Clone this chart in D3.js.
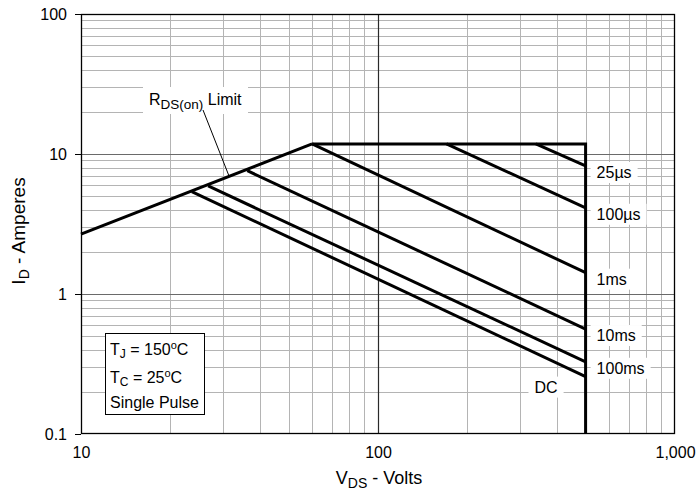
<!DOCTYPE html>
<html>
<head>
<meta charset="utf-8">
<script src="https://cdn.jsdelivr.net/npm/d3@7"></script>
<style>
  html, body { margin: 0; padding: 0; background: #fff; }
  svg { display: block; font-family: "Liberation Sans", Arial, sans-serif; }
</style>
</head>
<body>
<svg id="chart" width="698" height="493"></svg>
<script>
// ---- data ----
const xTickValues = [10, 100, 1000];
const xTickLabels = ["10", "100", "1,000"];
const yTickValues = [0.1, 1, 10, 100];
const yTickLabels = ["0.1", "1", "10", "100"];

// RDS(on) limit line
const rdsV = [10, 60];
const rdsI = [2.68, 11.8];
// current limit + voltage limit
const limitV = [60, 500, 500];
const limitI = [11.8, 11.8, 0.1];
// pulse-width lines
const pulseNames = ["25µs", "100µs", "1ms", "10ms", "100ms", "DC"];
const pulseStartV = [340, 170, 60, 36.3, 26.8, 23.6];
const pulseStartI = [11.8, 11.8, 11.8, 7.6, 5.91, 5.38];
const pulseEndV = [500, 500, 500, 500, 500, 500];
const pulseEndI = [8.21, 4.13, 1.42, 0.562, 0.328, 0.257];

// ---- layout ----
const FONT = "Liberation Sans, Arial, sans-serif";
const FS = 16;
const svg = d3.select("#chart");
const L = 81, R = 675, T = 14, B = 434;
const x = d3.scaleLog().domain([10, 1000]).range([L, R]);
const y = d3.scaleLog().domain([0.1, 100]).range([B, T]);
const snap = v => Math.round(v) + 0.5;

// grid
const minorX = [], minorY = [];
[10, 100].forEach(d => { for (let k = 2; k <= 9; k++) minorX.push(d * k); });
[0.1, 1, 10].forEach(d => { for (let k = 2; k <= 9; k++) minorY.push(+(d * k).toFixed(3)); });

const g = svg.append("g");
g.selectAll(".mx").data(minorX).join("line")
  .attr("x1", d => snap(x(d))).attr("x2", d => snap(x(d)))
  .attr("y1", T).attr("y2", B).attr("stroke", "#b4b4b4").attr("stroke-width", 1);
g.selectAll(".my").data(minorY).join("line")
  .attr("y1", d => snap(y(d))).attr("y2", d => snap(y(d)))
  .attr("x1", L).attr("x2", R).attr("stroke", "#b4b4b4").attr("stroke-width", 1);
// major
g.selectAll(".My").data([1, 10]).join("line")
  .attr("y1", d => snap(y(d))).attr("y2", d => snap(y(d)))
  .attr("x1", L).attr("x2", R).attr("stroke", "#6a6a6a").attr("stroke-width", 1.2);
g.selectAll(".Mx").data([100]).join("line")
  .attr("x1", d => snap(x(d))).attr("x2", d => snap(x(d)))
  .attr("y1", T).attr("y2", B).attr("stroke", "#2a2a2a").attr("stroke-width", 1.2);

// frame
svg.append("rect").attr("x", L + 0.5).attr("y", T + 0.5)
  .attr("width", R - L - 1).attr("height", B - T - 1)
  .attr("fill", "none").attr("stroke", "#000").attr("stroke-width", 1.3);

// axes
const yAxis = d3.axisLeft(y).tickValues(yTickValues)
  .tickFormat((d, i) => yTickLabels[i]).tickSize(6).tickPadding(8);
const ya = svg.append("g").attr("transform", `translate(${L},0)`).call(yAxis);
ya.select(".domain").remove();
ya.selectAll("text").attr("font-size", FS).attr("fill", "#000").attr("font-family", FONT);
ya.selectAll("line").attr("stroke", "#000");

const xAxis = d3.axisBottom(x).tickValues(xTickValues)
  .tickFormat((d, i) => xTickLabels[i]).tickSize(0).tickPadding(13);
const xa = svg.append("g").attr("transform", `translate(0,${B})`).call(xAxis);
xa.select(".domain").remove();
xa.selectAll("text").attr("font-size", FS).attr("fill", "#000").attr("font-family", FONT);

// lines
const line = d3.line().x(d => x(d[0])).y(d => y(d[1]));
const lineG = svg.append("g").attr("fill", "none").attr("stroke", "#000")
  .attr("stroke-width", 3).attr("stroke-linejoin", "miter").attr("stroke-linecap", "butt");
lineG.append("path").attr("d", line(rdsV.map((v, i) => [v, rdsI[i]])));
lineG.append("path").attr("d", line(limitV.map((v, i) => [v, limitI[i]])));
pulseNames.forEach((n, i) => {
  lineG.append("path").attr("d", line([[pulseStartV[i], pulseStartI[i]], [pulseEndV[i], pulseEndI[i]]]));
});

// pulse labels
const labG = svg.append("g").attr("font-size", FS).attr("fill", "#000");
pulseNames.forEach((n, i) => {
  const ex = x(pulseEndV[i]), ey = y(pulseEndI[i]);
  const isDC = n === "DC";
  const tx = isDC ? ex - 28 : ex + 11;
  const ty = isDC ? ey + 16 : ey + 12;
  const t = labG.append("text").attr("x", tx).attr("y", ty)
    .attr("text-anchor", isDC ? "end" : "start").text(n);
  const bb = t.node().getBBox();
  labG.insert("rect", "text").attr("x", bb.x - 6).attr("y", bb.y - 2)
    .attr("width", bb.width + 12).attr("height", bb.height + 4).attr("fill", "#fff");
});

// RDS(on) label
const rg = svg.append("g");
rg.append("rect").attr("x", 143).attr("y", 87).attr("width", 105).attr("height", 27).attr("fill", "#fff");
const rt = rg.append("text").attr("x", 149).attr("y", 105).attr("font-size", FS).attr("fill", "#000");
rt.append("tspan").text("R");
rt.append("tspan").attr("font-size", 13.5).attr("dy", 4).text("DS(on)");
rt.append("tspan").attr("dy", -4).text(" Limit");
rg.append("line").attr("x1", 203).attr("y1", 110).attr("x2", 229).attr("y2", 176)
  .attr("stroke", "#000").attr("stroke-width", 1);

// conditions box
const cg = svg.append("g");
cg.append("rect").attr("x", 105.5).attr("y", 333.5).attr("width", 99).attr("height", 81)
  .attr("fill", "#fff").attr("stroke", "#000").attr("stroke-width", 1);
function cond(yy, sub, val) {
  const c = cg.append("text").attr("x", 110).attr("y", yy).attr("font-size", FS);
  c.append("tspan").text("T");
  c.append("tspan").attr("font-size", 12).attr("dy", 3).text(sub);
  c.append("tspan").attr("dy", -3).text(" = " + val);
  c.append("tspan").attr("font-size", 11).attr("dy", -6).text("o");
  c.append("tspan").attr("dy", 6).text("C");
}
cond(355, "J", "150");
cond(383, "C", "25");
cg.append("text").attr("x", 110).attr("y", 408).attr("font-size", FS).text("Single Pulse");

// axis titles
const xt = svg.append("text").attr("x", (L + R) / 2 + 1).attr("y", 484)
  .attr("text-anchor", "middle").attr("font-size", 18);
xt.append("tspan").text("V");
xt.append("tspan").attr("font-size", 14).attr("dy", 4).text("DS");
xt.append("tspan").attr("dy", -4).text(" - Volts");

const yt = svg.append("text").attr("transform", `translate(25,${231}) rotate(-90)`)
  .attr("text-anchor", "middle").attr("font-size", 19);
yt.append("tspan").text("I");
yt.append("tspan").attr("font-size", 14).attr("dy", 4).text("D");
yt.append("tspan").attr("dy", -4).text(" - Amperes");
</script>
</body>
</html>
